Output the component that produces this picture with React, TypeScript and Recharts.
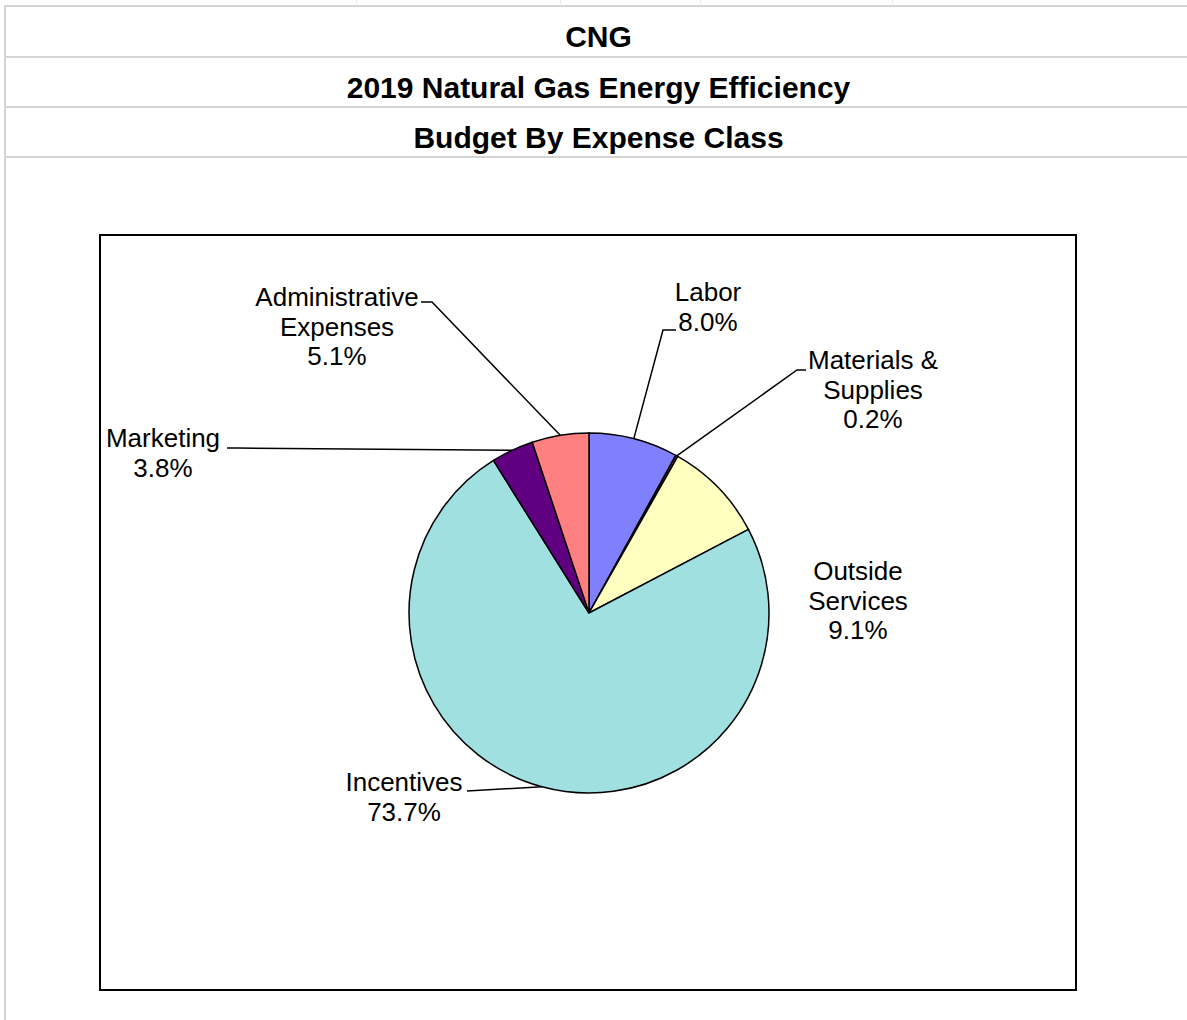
import { PieChart, Pie, Cell } from "recharts";

// budget shares by expense class, clockwise from 12 o'clock
const categories = [
  "Labor",
  "Materials & Supplies",
  "Outside Services",
  "Incentives",
  "Marketing",
  "Administrative Expenses",
];
const shares = [8.0, 0.2, 9.1, 73.7, 3.8, 5.1];
const labelLines = [
  ["Labor"],
  ["Materials &", "Supplies"],
  ["Outside", "Services"],
  ["Incentives"],
  ["Marketing"],
  ["Administrative", "Expenses"],
];
const colors = ["#8080FF", "#802060", "#FFFFC0", "#A0E0E0", "#600080", "#FF8080"];

const titles = ["CNG", "2019 Natural Gas Energy Efficiency", "Budget By Expense Class"];

// label placement, offsets from the pie centre (Excel labels were hand placed)
// tx/ty = centre of first text line, elbow/end = leader line points
const labelLayout: { tx: number; ty: number; elbow?: [number, number]; end?: [number, number] }[] = [
  { tx: 119, ty: -321, elbow: [74, -283], end: [87, -283] },
  { tx: 284, ty: -253, elbow: [208, -243], end: [217, -243] },
  { tx: 269, ty: -42 },
  { tx: -185, ty: 169, elbow: [-122, 178], end: [-122, 178] },
  { tx: -426, ty: -175, elbow: [-352, -165], end: [-362, -165] },
  { tx: -252, ty: -316, elbow: [-157, -311], end: [-168, -311] },
];

const data = categories.map((name, i) => ({ name, value: shares[i] }));

const RADIAN = Math.PI / 180;
const LINE_H = 29.5;

function renderLabel(props: any) {
  const { cx, cy, midAngle, outerRadius, index, value } = props;
  const lay = labelLayout[index];
  const lines = [...labelLines[index], value.toFixed(1) + "%"];
  const sx = cx + outerRadius * Math.cos(-midAngle * RADIAN);
  const sy = cy + outerRadius * Math.sin(-midAngle * RADIAN);
  return (
    <g key={"lbl-" + index}>
      {lay.elbow && lay.end && (
        <polyline
          points={`${sx},${sy} ${cx + lay.elbow[0]},${cy + lay.elbow[1]} ${cx + lay.end[0]},${cy + lay.end[1]}`}
          fill="none"
          stroke="#000"
          strokeWidth={1.5}
        />
      )}
      <text
        x={cx + lay.tx}
        y={cy + lay.ty}
        textAnchor="middle"
        dominantBaseline="central"
        fontFamily="'Liberation Sans', Arial, sans-serif"
        fontSize={26}
        fill="#000"
      >
        {lines.map((t, k) => (
          <tspan key={k} x={cx + lay.tx} y={cy + lay.ty + k * LINE_H}>
            {t}
          </tspan>
        ))}
      </text>
    </g>
  );
}

const gridGray = "#d4d4d4";

export default function App() {
  return (
    <div
      style={{
        position: "absolute",
        left: 0,
        top: 0,
        width: 1187,
        height: 1020,
        background: "#fff",
        overflow: "hidden",
        fontFamily: "'Liberation Sans', Arial, sans-serif",
      }}
    >
      {/* spreadsheet cell borders */}
      {[6, 57, 107, 157].map((y) => (
        <div key={y} style={{ position: "absolute", left: 5, top: y - 1, width: 1182, height: 2, background: gridGray }} />
      ))}
      <div style={{ position: "absolute", left: 4, top: 5, width: 2, height: 1015, background: gridGray }} />
      {[356, 560, 700, 892].map((x) => (
        <div key={x} style={{ position: "absolute", left: x, top: 0, width: 1, height: 6, background: "#ececec" }} />
      ))}

      {titles.map((t, i) => (
        <div
          key={t}
          style={{
            position: "absolute",
            left: 5,
            width: 1187,
            top: 12 + i * 50.5,
            height: 50,
            lineHeight: "50px",
            textAlign: "center",
            fontWeight: "bold",
            fontSize: 30,
            color: "#000",
          }}
        >
          {t}
        </div>
      ))}

      {/* chart area frame */}
      <div
        style={{
          position: "absolute",
          left: 99,
          top: 234,
          width: 974,
          height: 753,
          border: "2px solid #000",
        }}
      />

      <div style={{ position: "absolute", left: 0, top: 0 }}>
        <PieChart width={1187} height={1020} margin={{ top: 0, right: 0, bottom: 0, left: 0 }}>
          <Pie
            data={data}
            dataKey="value"
            nameKey="name"
            cx={589}
            cy={613}
            outerRadius={180}
            startAngle={90}
            endAngle={-270}
            stroke="#000"
            strokeWidth={1.5}
            label={renderLabel}
            labelLine={false}
            isAnimationActive={false}
          >
            {data.map((d, i) => (
              <Cell key={d.name} fill={colors[i]} />
            ))}
          </Pie>
        </PieChart>
      </div>
    </div>
  );
}
